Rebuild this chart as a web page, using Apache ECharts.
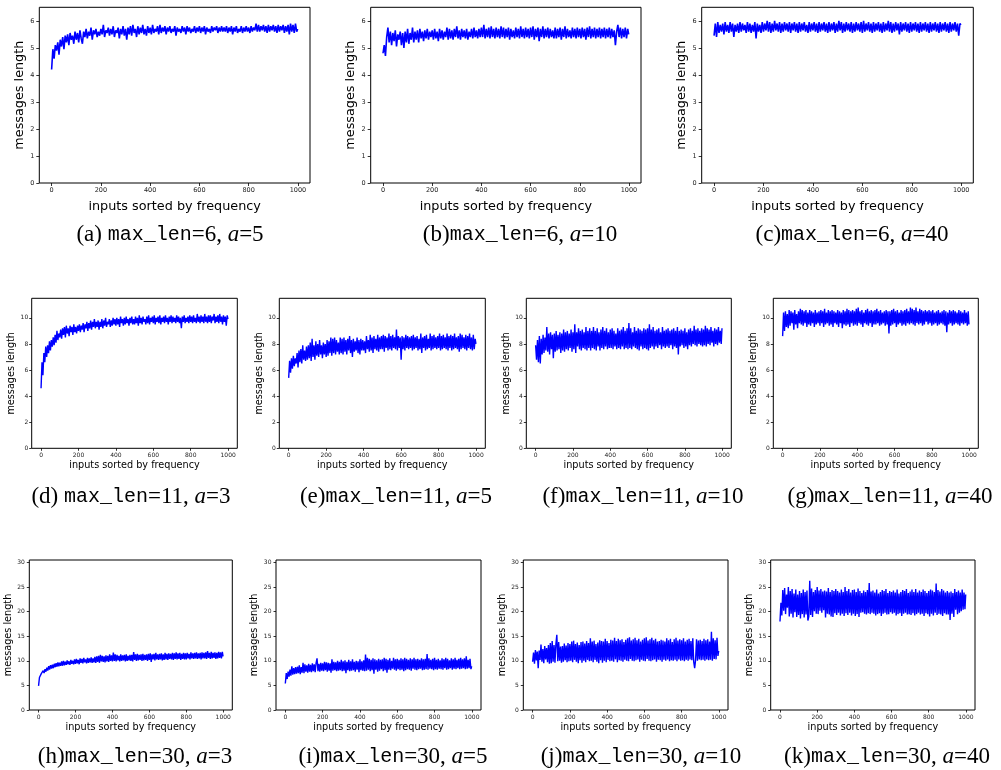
<!DOCTYPE html>
<html><head><meta charset="utf-8">
<script src="https://cdn.jsdelivr.net/npm/echarts@6/dist/echarts.min.js"></script>
<style>html,body{margin:0;padding:0;background:#fff}#c{width:1001px;height:770px}</style>
</head><body><div id="c"></div>
<script>
// x positions (input rank) at which the curves are sampled: 0,5,...,995,999
const inputs = [
 0,5,10,15,20,25,30,35,40,45,50,55,60,65,70,75,80,85,90,95,
 100,105,110,115,120,125,130,135,140,145,150,155,160,165,170,175,180,185,190,195,
 200,205,210,215,220,225,230,235,240,245,250,255,260,265,270,275,280,285,290,295,
 300,305,310,315,320,325,330,335,340,345,350,355,360,365,370,375,380,385,390,395,
 400,405,410,415,420,425,430,435,440,445,450,455,460,465,470,475,480,485,490,495,
 500,505,510,515,520,525,530,535,540,545,550,555,560,565,570,575,580,585,590,595,
 600,605,610,615,620,625,630,635,640,645,650,655,660,665,670,675,680,685,690,695,
 700,705,710,715,720,725,730,735,740,745,750,755,760,765,770,775,780,785,790,795,
 800,805,810,815,820,825,830,835,840,845,850,855,860,865,870,875,880,885,890,895,
 900,905,910,915,920,925,930,935,940,945,950,955,960,965,970,975,980,985,990,995,
 999];

const len6a5 = [
 4.2,4.95,4.6,5.1,4.9,5.2,4.75,5.3,5.05,5.4,4.95,5.45,5.2,5.5,5.1,5.55,5.3,5.45,5.15,5.6,
 5.3,5.55,5.2,5.65,5.35,5.15,5.6,5.4,5.7,5.35,5.6,5.45,5.75,5.3,5.65,5.5,5.7,5.4,5.6,5.45,
 5.7,5.5,5.85,5.4,5.65,5.55,5.75,5.45,5.7,5.5,5.8,5.4,5.65,5.55,5.75,5.35,5.7,5.5,5.8,5.45,
 5.7,5.3,5.75,5.5,5.8,5.45,5.85,5.55,5.7,5.4,5.8,5.5,5.75,5.55,5.85,5.5,5.7,5.45,5.8,5.55,
 5.75,5.5,5.85,5.55,5.7,5.6,5.8,5.5,5.85,5.55,5.75,5.6,5.8,5.5,5.75,5.6,5.8,5.55,5.7,5.6,
 5.8,5.45,5.75,5.6,5.7,5.55,5.8,5.6,5.75,5.5,5.8,5.6,5.75,5.55,5.7,5.6,5.8,5.55,5.75,5.6,
 5.8,5.55,5.75,5.6,5.8,5.5,5.75,5.6,5.7,5.55,5.8,5.6,5.75,5.65,5.8,5.55,5.75,5.6,5.8,5.6,
 5.75,5.6,5.8,5.55,5.75,5.6,5.8,5.5,5.75,5.6,5.8,5.55,5.7,5.6,5.8,5.55,5.75,5.6,5.8,5.6,
 5.75,5.55,5.8,5.6,5.75,5.65,5.9,5.6,5.85,5.6,5.8,5.65,5.85,5.6,5.8,5.55,5.85,5.6,5.8,5.65,
 5.85,5.6,5.8,5.55,5.85,5.6,5.8,5.65,5.85,5.55,5.8,5.6,5.85,5.5,5.9,5.6,5.85,5.55,5.9,5.6,
 5.7];

const len6a10 = [
 4.8,5.1,4.7,5.4,5.75,5.2,5.6,5.1,5.55,5.25,5.65,5.05,5.5,5.3,5.6,5.1,5.55,5.0,5.6,5.2,
 5.7,5.15,5.55,5.3,5.75,5.2,5.6,5.3,5.65,5.2,5.7,5.35,5.6,5.25,5.65,5.35,5.7,5.3,5.6,5.4,
 5.65,5.3,5.7,5.35,5.6,5.25,5.7,5.35,5.65,5.3,5.6,5.4,5.75,5.3,5.7,5.35,5.65,5.3,5.7,5.4,
 5.8,5.35,5.65,5.3,5.7,5.4,5.65,5.35,5.7,5.3,5.6,5.4,5.7,5.35,5.75,5.4,5.65,5.35,5.7,5.4,
 5.75,5.4,5.85,5.35,5.7,5.4,5.75,5.35,5.8,5.4,5.7,5.35,5.75,5.4,5.7,5.35,5.8,5.4,5.75,5.35,
 5.7,5.4,5.75,5.3,5.7,5.4,5.65,5.35,5.75,5.4,5.7,5.35,5.8,5.4,5.7,5.35,5.75,5.4,5.7,5.35,
 5.75,5.4,5.8,5.3,5.7,5.4,5.75,5.25,5.7,5.4,5.8,5.35,5.7,5.4,5.75,5.35,5.7,5.4,5.65,5.35,
 5.75,5.35,5.7,5.4,5.75,5.3,5.7,5.4,5.8,5.35,5.7,5.4,5.65,5.35,5.75,5.4,5.7,5.35,5.75,5.4,
 5.7,5.35,5.75,5.4,5.7,5.3,5.75,5.4,5.8,5.35,5.7,5.4,5.75,5.35,5.7,5.4,5.75,5.35,5.7,5.4,
 5.75,5.35,5.7,5.4,5.75,5.35,5.7,5.4,5.65,5.1,5.6,5.85,5.4,5.75,5.35,5.7,5.4,5.75,5.35,5.7,
 5.5];

const len6a40 = [
 5.45,5.9,5.4,5.95,5.55,5.85,5.6,5.9,5.5,5.95,5.6,5.85,5.55,5.95,5.6,5.9,5.4,5.85,5.6,5.9,
 5.55,5.95,5.6,5.9,5.65,5.85,5.55,5.95,5.6,5.9,5.55,5.85,5.6,5.95,5.35,5.9,5.6,5.85,5.55,5.95,
 5.6,5.9,5.65,6.0,5.6,5.95,5.55,5.9,5.6,6.0,5.65,5.9,5.6,5.95,5.55,5.9,5.6,5.95,5.65,5.9,
 5.6,5.95,5.55,5.9,5.65,5.95,5.6,5.9,5.55,5.95,5.6,5.9,5.65,5.95,5.6,5.85,5.55,5.95,5.6,5.9,
 5.65,5.95,5.6,5.9,5.55,5.95,5.6,5.9,5.65,5.95,5.6,5.9,5.55,5.95,5.6,5.9,5.65,5.95,5.55,5.9,
 5.6,6.0,5.65,5.95,5.55,5.9,5.6,5.95,5.65,5.9,5.6,5.95,5.55,5.9,5.6,5.95,5.65,5.9,5.6,5.95,
 5.55,6.0,5.6,5.9,5.65,5.95,5.6,5.9,5.55,5.95,5.6,5.9,5.65,5.95,5.6,5.9,5.55,5.95,5.6,5.9,
 5.65,6.0,5.6,5.95,5.55,5.9,5.6,5.95,5.65,5.9,5.5,5.95,5.6,5.9,5.65,5.95,5.6,5.9,5.55,5.95,
 5.6,5.9,5.65,5.95,5.6,5.9,5.55,5.95,5.6,5.9,5.65,5.95,5.6,5.9,5.55,5.95,5.6,5.9,5.65,5.95,
 5.6,5.9,5.55,5.95,5.6,5.9,5.65,5.95,5.6,5.9,5.55,5.95,5.6,5.9,5.65,5.95,5.6,5.9,5.45,5.9,
 5.85];

const len11a3 = [
 4.6,6.6,5.6,7.3,6.6,7.8,7.0,7.9,7.3,8.2,7.5,8.3,7.8,8.5,7.9,8.7,8.1,9.0,8.3,8.8,
 8.5,9.1,8.4,9.2,8.7,9.3,8.5,9.4,8.8,9.2,8.6,9.4,8.9,9.3,8.7,9.5,8.9,9.3,8.8,9.4,
 9.0,9.5,8.9,9.4,9.1,9.6,8.9,9.5,9.2,9.7,9.0,9.6,9.2,9.8,9.1,9.7,9.3,9.9,9.2,9.7,
 9.3,9.8,9.1,9.7,9.3,9.9,9.2,9.8,9.4,10.0,9.3,9.7,9.5,9.9,9.3,9.8,9.4,10.0,9.5,9.9,
 9.4,10.0,9.5,9.9,9.3,10.1,9.6,9.9,9.4,10.0,9.5,10.1,9.6,9.9,9.4,10.0,9.6,10.1,9.5,9.9,
 9.5,10.1,9.6,10.0,9.4,10.2,9.6,10.0,9.5,10.1,9.7,9.9,9.5,10.1,9.6,10.2,9.5,10.0,9.7,10.1,
 9.6,10.2,9.5,10.0,9.7,10.1,9.6,10.2,9.5,10.0,9.7,10.1,9.6,10.2,9.7,10.0,9.5,10.1,9.7,10.2,
 9.6,10.1,9.7,10.0,9.6,10.2,9.7,10.1,9.6,10.0,9.2,10.1,9.7,10.2,9.6,10.0,9.7,10.1,9.6,10.2,
 9.7,10.1,9.6,10.2,9.7,10.0,9.6,10.3,9.7,10.1,9.6,10.2,9.7,10.1,9.6,10.3,9.7,10.1,9.6,10.2,
 9.7,10.2,9.6,10.1,9.8,10.3,9.6,10.1,9.7,10.2,9.6,10.3,9.7,10.1,9.5,10.2,9.7,10.1,9.4,10.2,
 9.9];

const len11a5 = [
 5.4,6.7,5.8,6.9,6.1,7.1,6.3,6.9,6.5,7.3,6.2,7.5,6.6,7.6,6.5,7.9,6.8,7.5,6.7,7.8,
 6.8,7.9,6.9,8.1,6.7,8.4,7.0,7.9,6.8,8.2,7.1,8.0,7.0,8.3,7.2,7.9,6.9,8.1,7.2,8.0,
 7.0,8.3,7.1,8.2,7.3,8.5,7.1,8.4,7.3,8.5,7.2,8.3,7.4,8.1,7.2,8.5,7.3,8.4,7.2,8.5,
 7.4,8.3,7.2,8.4,7.5,8.6,7.3,8.3,7.0,8.4,7.4,8.2,7.5,8.5,7.3,8.3,7.2,8.4,7.5,8.3,
 7.5,8.2,7.3,8.6,7.6,8.3,7.4,8.7,7.5,8.5,7.3,8.6,7.6,8.4,7.5,8.7,7.4,8.5,7.6,8.6,
 7.6,8.7,7.4,8.6,7.7,8.5,7.5,8.8,7.6,8.6,7.5,8.7,7.7,8.5,7.6,9.1,7.5,8.6,7.7,8.5,
 6.8,8.6,7.6,8.5,7.5,8.7,7.7,8.6,7.6,8.5,7.7,8.6,7.5,8.7,7.6,8.5,7.7,8.6,7.5,8.4,
 7.6,8.8,7.3,8.5,7.7,8.6,7.5,8.7,7.6,8.4,7.7,8.8,7.5,8.6,7.6,8.7,7.7,8.5,7.6,8.6,
 7.7,8.8,7.5,8.6,7.6,8.7,7.7,8.5,7.6,8.8,7.5,8.6,7.7,8.7,7.5,8.6,7.6,8.8,7.7,8.5,
 7.6,8.6,7.4,8.8,7.6,8.7,7.7,8.5,7.6,8.7,7.5,8.6,7.7,8.8,7.6,8.5,7.5,8.7,7.6,8.4,
 8.0];

const len11a10 = [
 7.9,6.8,8.3,6.6,8.6,6.5,8.4,7.2,8.7,7.3,8.5,7.5,9.3,7.4,8.8,7.2,8.9,7.6,8.7,6.9,
 8.8,7.4,9.0,7.5,8.7,7.6,8.9,7.3,8.8,7.5,9.1,7.4,8.9,7.6,9.0,7.5,8.8,7.7,9.1,7.4,
 8.9,7.6,9.5,7.3,8.9,7.8,9.2,7.6,9.0,7.5,9.1,7.7,8.9,7.6,9.3,7.5,9.0,7.7,9.2,7.5,
 9.0,7.7,9.3,7.6,9.0,7.5,9.2,7.8,8.9,7.5,9.1,7.7,9.3,7.6,9.0,7.8,9.2,7.6,8.9,7.7,
 9.1,7.7,9.2,7.6,9.0,7.8,8.8,7.6,9.2,7.7,9.0,7.6,9.1,7.8,9.3,7.6,9.0,7.7,9.2,7.6,
 9.6,7.7,9.2,7.6,8.9,7.8,9.3,7.7,9.0,7.6,9.2,7.5,9.1,7.8,9.0,7.6,9.2,7.7,9.1,7.6,
 9.2,7.5,9.5,7.7,9.1,7.8,9.3,7.6,9.0,7.8,9.1,7.7,9.2,7.9,8.9,7.6,9.3,7.8,9.0,7.7,
 9.1,7.8,9.2,7.7,9.0,7.9,9.1,7.6,9.2,7.8,9.0,7.7,9.3,7.2,9.0,7.8,9.1,7.9,9.0,7.7,
 9.2,7.8,8.9,7.6,9.1,7.9,9.2,7.8,9.0,8.0,9.4,7.9,9.1,7.8,9.2,8.0,9.0,7.9,9.2,7.8,
 9.1,7.9,9.4,7.8,9.2,8.0,9.1,7.9,9.3,8.1,9.0,7.8,9.2,8.0,9.1,7.9,9.3,8.1,9.0,8.0,
 9.2];

const len11a40 = [
 8.6,10.4,9.0,10.5,9.3,10.3,9.2,10.6,9.4,10.5,9.6,10.4,9.1,10.6,9.5,10.3,9.2,10.5,9.6,10.7,
 9.5,10.6,9.4,10.5,9.6,10.6,9.3,10.4,9.5,10.6,9.4,10.5,9.6,10.4,9.3,10.6,9.5,10.4,9.6,10.5,
 9.4,10.6,9.6,10.5,9.3,10.7,9.5,10.4,9.6,10.6,9.4,10.5,9.5,10.6,9.3,10.5,9.6,10.4,9.5,10.6,
 9.3,10.5,9.6,10.4,9.2,10.6,9.5,10.5,9.4,10.7,9.5,10.6,9.3,10.5,9.6,10.6,9.4,10.5,9.5,10.7,
 9.4,10.8,9.6,10.5,9.5,10.6,9.3,10.4,9.6,10.6,9.5,10.7,9.4,10.5,9.6,10.6,9.3,10.5,9.5,10.6,
 9.5,10.7,9.6,10.5,9.4,10.6,9.5,10.4,9.6,10.5,9.4,10.6,9.5,10.5,8.8,10.5,9.4,10.6,9.5,10.7,
 9.6,10.5,9.3,10.6,9.5,10.4,9.6,10.6,9.4,10.5,9.5,10.6,9.4,10.7,9.6,10.5,9.5,10.8,9.6,10.7,
 9.5,10.6,9.4,10.8,9.6,10.5,9.5,10.7,9.6,10.6,9.4,10.5,9.5,10.6,9.7,10.5,9.5,10.6,9.6,10.5,
 9.4,10.6,9.5,10.4,9.6,10.5,9.4,10.6,9.5,10.4,9.6,10.5,9.5,10.6,9.4,10.5,8.9,10.4,9.5,10.6,
 9.6,10.5,9.4,10.6,9.5,10.5,9.6,10.4,9.5,10.6,9.4,10.5,9.6,10.4,9.5,10.6,9.6,10.4,9.4,10.5,
 9.5];

const len30a3 = [
 4.9,6.6,6.2,7.4,7.0,8.0,7.5,8.3,7.8,8.6,8.0,8.9,8.2,9.1,8.4,9.2,8.5,9.4,8.7,9.5,
 8.8,9.7,8.9,9.6,9.0,9.9,9.0,10.0,9.1,9.8,9.2,10.1,9.3,9.9,9.2,10.2,9.4,10.0,9.3,10.3,
 9.4,10.4,9.5,10.2,9.3,10.5,9.6,10.4,9.5,10.6,9.7,10.3,9.5,10.6,9.6,10.5,9.7,10.7,9.6,10.5,
 9.7,10.8,9.6,10.9,9.8,11.0,9.6,11.2,9.9,11.0,9.8,10.9,9.7,11.1,9.9,11.0,9.8,11.3,10.0,11.1,
 9.9,11.7,10.0,11.3,9.9,11.2,10.1,11.0,9.9,11.3,10.0,11.1,10.1,11.2,9.9,11.3,10.0,11.0,10.1,11.2,
 10.0,11.2,9.9,11.8,10.2,11.3,10.0,11.4,10.1,11.2,10.2,11.3,10.0,11.4,10.1,11.2,10.2,11.3,10.0,11.4,
 10.2,11.5,9.8,11.3,10.3,11.4,10.1,11.6,10.3,11.3,10.2,11.4,10.3,11.5,10.1,11.3,10.2,11.6,10.3,11.4,
 10.2,11.5,10.4,11.4,10.3,11.6,10.2,11.5,10.4,11.7,10.3,11.5,10.4,11.6,10.2,11.4,10.4,11.6,10.3,11.5,
 10.3,11.6,10.5,11.4,10.3,11.7,10.5,11.5,10.4,11.6,10.5,11.7,10.4,11.5,10.5,11.6,10.3,11.7,10.5,11.6,
 10.5,11.7,10.4,12.0,10.6,11.6,10.4,11.8,10.5,11.6,10.6,11.7,10.4,11.6,10.5,11.8,10.6,11.7,10.5,11.8,
 10.9];

const len30a5 = [
 5.4,7.5,6.3,7.8,6.8,8.2,7.0,8.9,7.2,8.5,7.3,8.7,7.4,8.8,7.5,9.1,7.3,8.7,7.6,9.6,
 7.5,9.3,7.8,9.1,7.6,9.4,7.8,9.2,7.7,9.5,7.9,9.3,7.7,9.6,10.5,7.9,9.4,7.8,9.6,8.0,
 9.5,7.9,9.8,8.1,9.7,7.8,9.6,8.0,9.5,7.6,10.3,8.0,9.8,8.1,9.7,7.9,10.0,8.0,9.8,8.1,
 10.2,7.9,9.9,8.0,10.1,7.5,9.8,8.1,10.2,7.9,9.9,8.0,10.3,8.1,9.8,7.8,10.0,8.2,9.9,7.7,
 10.3,8.1,9.9,8.0,10.1,7.9,11.3,8.0,10.6,8.2,10.4,7.9,10.2,8.1,10.5,7.4,10.3,8.2,10.1,7.8,
 10.4,8.0,10.2,8.3,10.3,7.9,10.6,8.1,10.4,7.6,10.2,8.2,10.5,8.1,10.0,8.4,10.6,8.2,10.3,8.0,
 10.4,8.3,10.2,8.1,10.5,8.2,10.3,7.9,10.6,8.1,10.4,8.3,10.2,8.2,10.5,8.0,10.3,8.4,10.6,8.2,
 10.3,8.1,10.4,8.3,10.2,8.4,10.5,8.1,10.3,8.2,10.4,8.3,11.4,8.2,10.5,8.4,10.2,8.3,10.4,8.1,
 10.6,8.3,10.2,8.2,10.4,8.4,10.1,8.3,10.5,8.2,10.3,8.5,10.6,8.2,10.4,8.3,10.1,8.5,10.5,8.2,
 10.3,8.4,10.6,8.3,10.2,8.5,10.4,8.3,10.6,8.4,10.3,8.5,10.5,8.3,10.9,8.4,10.2,8.5,10.4,8.3,
 8.9];

const len30a10 = [
 9.8,11.7,9.4,12.2,10.1,11.9,8.5,12.1,10.2,13.3,9.8,12.4,9.5,13.0,10.3,12.6,9.7,13.2,9.4,13.6,
 9.5,14.0,9.8,13.2,9.6,13.4,15.3,9.9,13.8,10.0,12.9,9.6,13.0,9.8,13.5,10.1,13.1,9.7,13.6,9.9,
 13.4,10.0,13.9,9.7,14.1,10.2,13.4,9.8,13.7,9.5,13.2,10.1,13.8,9.6,13.9,10.0,13.5,9.7,14.0,10.2,
 13.6,9.9,14.6,10.0,13.9,9.7,14.1,10.2,13.4,9.8,13.7,9.5,14.2,10.1,14.0,9.6,13.9,10.0,14.5,9.7,
 14.0,10.2,13.6,9.9,14.3,10.0,14.1,9.8,14.7,10.3,14.0,9.7,14.5,10.1,14.2,10.0,14.4,9.8,13.8,10.2,
 14.3,10.0,14.6,9.9,14.8,10.4,14.1,10.0,14.4,9.9,14.7,10.1,14.2,10.3,14.5,9.8,13.9,10.2,14.3,10.0,
 14.6,9.9,14.8,10.4,14.1,10.0,14.4,9.9,14.7,10.1,14.2,10.3,14.5,9.8,13.9,10.2,14.0,10.1,14.3,9.8,
 14.1,10.2,13.9,10.0,14.6,10.3,14.2,9.9,14.5,10.1,13.8,10.0,14.4,10.2,14.7,9.9,14.1,10.3,14.4,10.0,
 14.2,10.1,14.6,9.9,13.9,10.2,14.3,10.0,14.5,10.3,14.0,10.1,14.6,9.8,8.5,10.2,14.4,10.0,14.1,10.3,
 14.3,10.1,14.0,10.2,14.5,10.0,14.2,10.3,14.4,10.1,13.9,10.2,15.9,10.0,14.6,10.4,14.2,10.3,14.7,11.0,
 12.0];

const len30a40 = [
 18.0,21.8,19.2,24.4,20.2,24.8,19.5,23.5,20.8,25.0,19.0,24.2,19.6,24.6,18.8,23.7,19.9,24.5,18.9,23.5,
 19.3,24.2,18.6,23.8,19.5,24.5,18.8,24.0,19.4,24.3,18.2,19.0,26.3,19.3,24.7,18.9,24.0,20.1,24.4,19.6,
 25.0,19.5,24.3,20.2,24.6,19.8,24.1,20.3,24.3,18.8,24.1,19.6,24.8,19.4,24.0,19.0,24.4,18.9,24.2,19.7,
 24.6,19.3,24.2,19.8,23.9,19.2,24.5,19.6,24.0,19.1,25.0,19.7,24.2,19.3,24.6,19.8,23.9,19.2,24.4,19.6,
 24.5,19.1,24.0,19.5,24.7,18.9,24.2,19.8,23.8,19.9,24.3,19.6,24.0,19.4,24.4,19.7,25.8,19.5,24.1,19.8,
 24.3,19.6,23.9,19.2,24.5,19.5,23.7,19.7,24.0,19.1,24.4,19.6,24.2,19.8,24.6,19.4,23.8,19.5,24.2,19.9,
 24.0,19.6,24.3,19.8,23.9,19.2,24.5,19.5,23.7,19.7,24.0,19.1,24.4,19.6,24.2,19.8,24.6,19.4,23.8,19.5,
 24.1,19.3,24.5,19.7,24.0,19.2,24.6,19.5,23.9,19.8,24.3,19.4,24.0,19.6,24.5,19.1,24.2,19.7,23.8,19.5,
 24.2,19.0,24.5,19.6,24.3,19.2,24.0,19.8,25.7,19.3,24.4,19.6,24.1,19.4,24.6,19.1,24.3,19.7,23.9,19.4,
 24.2,19.4,23.9,18.3,24.1,19.6,23.8,18.9,24.6,20.4,24.0,19.5,24.3,19.8,23.9,20.1,24.5,20.4,23.9,20.5,
 23.5];

const xTicks = [0,200,400,600,800,1000];
const yTicks6 = [0,1,2,3,4,5,6];
const yTicks11 = [0,2,4,6,8,10];
const yTicks30 = [0,5,10,15,20,25,30];

const captionTags = ['(a) ','(b)','(c)','(d) ','(e)','(f)','(g)','(h)','(i)','(j)','(k)'];
const captionMaxLen = [6,6,6,11,11,11,11,30,30,30,30];
const captionA = [5,10,40,3,5,10,40,3,5,10,40];

const xName = 'inputs sorted by frequency';
const yName = 'messages length';

const seriesList = [len6a5,len6a10,len6a40,len11a3,len11a5,len11a10,len11a40,len30a3,len30a5,len30a10,len30a40];
const yTickList = [yTicks6,yTicks6,yTicks6,yTicks11,yTicks11,yTicks11,yTicks11,yTicks30,yTicks30,yTicks30,yTicks30];
const yMaxList = [6.5,6.5,6.5,11.5,11.5,11.5,11.5,30.5,30.5,30.5,30.5];

// layout (pixels): left, top, width, height, row, caption centre x, caption centre y
const layout = [
 [39.3,7.3,270.7,175.7,0,170,235],
 [370.7,7.3,270.3,175.7,0,520,235],
 [701.7,7.3,271.6,175.7,0,852,235],
 [31.7,298.3,205.6,150,1,131,497],
 [279.3,298.3,206,150,1,396,497],
 [526.3,298.3,205,150,1,643,497],
 [773.3,298.3,205,150,1,890,497],
 [29.3,560,203,150,2,135,757],
 [276,560,205,150,2,393,757],
 [523.3,560,204.7,150,2,641,757],
 [770.7,560,204.3,150,2,887,757]
];
const rowStyle = [
 {tick:6.5, name:12.8, yGap:12, xGap:17, tickLen:3, yMargin:5, xMargin:4, lw:1.6},
 {tick:6, name:9.7, yGap:13, xGap:12.5, tickLen:2.5, yMargin:3.5, xMargin:4, lw:1.4},
 {tick:6, name:9.7, yGap:14, xGap:12.5, tickLen:2.5, yMargin:4.5, xMargin:4, lw:1.4}
];

const grids=[], xAxes=[], yAxes=[], series=[], graphics=[];
const fmt = v => String(v);
layout.forEach((L,i)=>{
  const rs = rowStyle[L[4]];
  grids.push({left:L[0], top:L[1], width:L[2], height:L[3], show:true, borderColor:'#000', borderWidth:1, backgroundColor:'#fff', containLabel:false, outerBoundsMode:'none'});
  xAxes.push({type:'value', gridIndex:i, min:-50, max:1049,
    axisLine:{show:false, onZero:false}, splitLine:{show:false},
    axisTick:{show:true, length:rs.tickLen, lineStyle:{color:'#000',width:0.8}, customValues:xTicks},
    axisLabel:{fontSize:rs.tick, color:'#222', fontFamily:'DejaVu Sans', margin:rs.xMargin, customValues:xTicks, formatter:fmt},
    name:xName, nameLocation:'middle', nameGap:rs.xGap,
    nameTextStyle:{fontSize:rs.name, color:'#000', fontFamily:'DejaVu Sans'}});
  yAxes.push({type:'value', gridIndex:i, min:0, max:yMaxList[i],
    axisLine:{show:false, onZero:false}, splitLine:{show:false},
    axisTick:{show:true, length:rs.tickLen, lineStyle:{color:'#000',width:0.8}, customValues:yTickList[i]},
    axisLabel:{fontSize:rs.tick, color:'#222', fontFamily:'DejaVu Sans', margin:rs.yMargin, customValues:yTickList[i], formatter:fmt},
    name:yName, nameLocation:'middle', nameGap:rs.yGap,
    nameTextStyle:{fontSize:rs.name, color:'#000', fontFamily:'DejaVu Sans'}});
  series.push({type:'line', xAxisIndex:i, yAxisIndex:i, showSymbol:false, symbol:'none',
    lineStyle:{color:'#0000ff', width:rs.lw}, itemStyle:{color:'#0000ff'},
    data: inputs.map((x,k)=>[x, seriesList[i][k]]), animation:false, silent:true});
  graphics.push({type:'text', x:L[5], y:L[6], style:{
    text:'{s|'+captionTags[i]+'}{m|max_len}{s|='+captionMaxLen[i]+', }{i|a}{s|='+captionA[i]+'}',
    align:'center', verticalAlign:'middle',
    rich:{
      s:{fontFamily:'Liberation Serif', fontSize:23, fill:'#000'},
      m:{fontFamily:'Liberation Mono', fontSize:20, fill:'#000'},
      i:{fontFamily:'Liberation Serif', fontStyle:'italic', fontSize:23, fill:'#000'}
    }}});
});

const chart = echarts.init(document.getElementById('c'), null, {renderer:'canvas'});
chart.setOption({animation:false, backgroundColor:'#fff', grid:grids, xAxis:xAxes, yAxis:yAxes, series:series, graphic:graphics});
</script></body></html>
